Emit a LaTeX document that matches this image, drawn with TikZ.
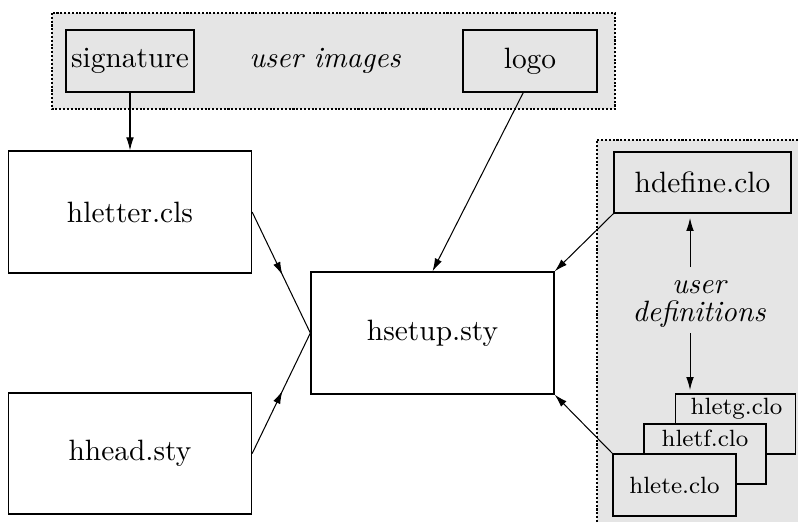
\documentclass[tikz,border=0pt]{standalone}
\usetikzlibrary{arrows.meta,decorations.markings,calc}
\newcommand\pxu{0.34pt}
\begin{document}
\begin{tikzpicture}[x=0.34pt,y=-0.34pt,
  tip/.style={line width=0.35pt,-{Latex[length=4.4pt,width=2.6pt]}},
  midarrow/.style={line width=0.35pt,
    decoration={markings, mark=at position 0.52 with {\arrow{Latex[length=4.4pt,width=2.6pt]}}},
    postaction={decorate}},
  box/.style={draw, line width=0.45pt, inner sep=0pt},
  dotbd/.style={line width=0.4pt, dash pattern=on 0.7pt off 0.6pt},
  graybox/.style={box, fill=gray!20},
  small/.style={font=\footnotesize}]
\useasboundingbox (0,0) rectangle (798,522);
% gray regions
\fill[gray!20] (52,13) rectangle (615,109);
\draw[dotbd] (52,13) rectangle (615,109);
\fill[gray!20] (597,140) rectangle (798,522);
\draw[dotbd] (597,522) -- (597,140) -- (798,140);
% nodes
\node[graybox, minimum width={128*\pxu}, minimum height={62*\pxu}] (sig) at (130,61) {signature};
\node[font=\itshape] (ui) at (325,61) {user images};
\node[graybox, minimum width={134*\pxu}, minimum height={62*\pxu}] (logo) at (530,61) {logo};
\node[box, minimum width={243*\pxu}, minimum height={122*\pxu}] (hletter) at (130,212) {hletter.cls};
\node[box, minimum width={243*\pxu}, minimum height={121*\pxu}] (hhead) at (130,453.5) {hhead.sty};
\node[box, minimum width={243*\pxu}, minimum height={122*\pxu}] (hsetup) at (432.5,333) {hsetup.sty};
\node[graybox, minimum width={177*\pxu}, minimum height={61*\pxu}] (hdefine) at (702.5,182.5) {hdefine.clo};
\node[font=\itshape\fontsize{10}{9.4}\selectfont, align=center] (ud) at (699,304) {user\\definitions};
% stacked files
\node[graybox, minimum width={120*\pxu}, minimum height={60*\pxu}] (hletg) at (735.5,424) {};
\node[small] (hletgtext) at ($(hletg.north)+(1,15)$) {hletg.clo};
\node[graybox, minimum width={122*\pxu}, minimum height={60*\pxu}] (hletf) at (705,454) {};
\node[small] (hletftext) at ($(hletf.north)+(0,15)$) {hletf.clo};
\node[graybox, small, minimum width={123*\pxu}, minimum height={62*\pxu}] (hlete) at (674.5,485) {hlete.clo};
% connectors
\draw[tip] (sig.south) -- (hletter.north);
\draw[tip] ($(logo.south west)!0.45!(logo.south east)$) -- (hsetup.north);
\draw[midarrow] (hletter.east) -- (hsetup.west);
\draw[midarrow] (hhead.east) -- (hsetup.west);
\draw[tip] (hdefine.south west) -- (hsetup.north east);
\draw[tip] (hlete.north west) -- (hsetup.south east);
\coordinate (ua) at (690,218);
\coordinate (da) at (690,390);
\draw[tip] ($(ud.center)+(-9,-37)$) -- (ua);
\draw[tip] ($(ud.center)+(-9,29)$) -- (da);
\end{tikzpicture}
\end{document}
